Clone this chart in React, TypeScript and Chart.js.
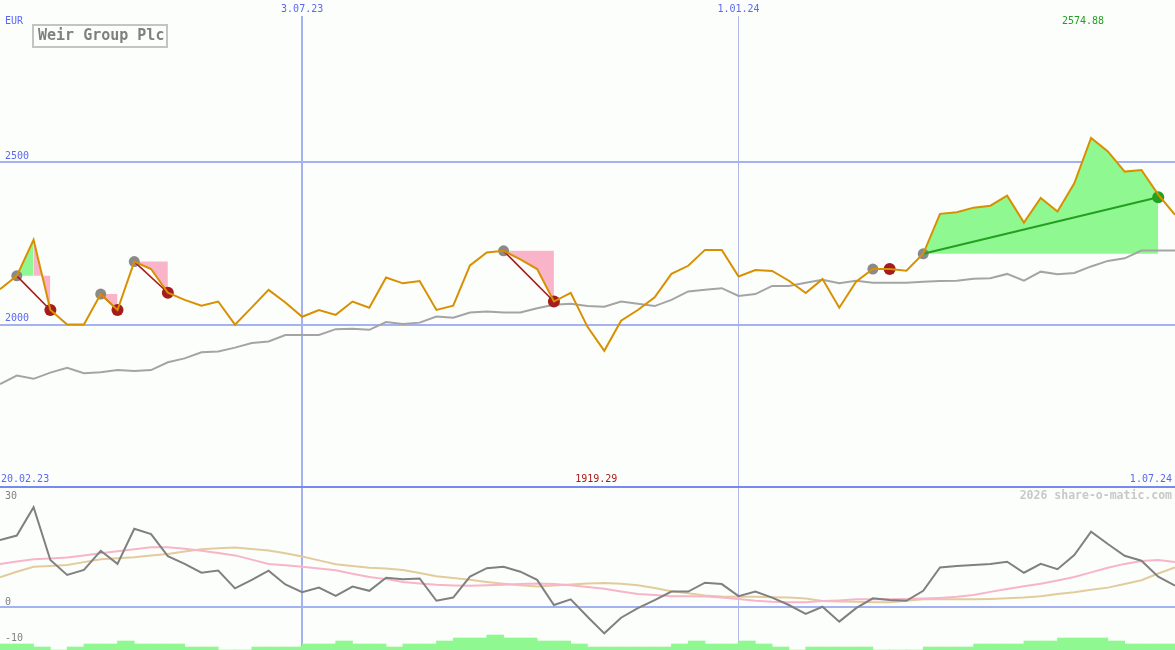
import React, { useEffect, useRef } from "react";
import { Chart, registerables } from "chart.js";

Chart.register(...registerables);

const MONO = '"DejaVu Sans Mono", "Liberation Mono", monospace';
const BG = "#fcfefc";

const title = "Weir Group Plc";
const currency = "EUR";
const watermark = "2026 share-o-matic.com";
const firstDate = "20.02.23";
const lastDate = "1.07.24";
const markerIndex = [18, 44];
const markerDates = ["3.07.23", "1.01.24"];
const priceTicks = [2000, 2500];
const oscTicks = [-10, 0, 30];

const price = [
  2109, 2150, 2261, 2045, 2000, 2000, 2094, 2045, 2194, 2171,
  2098, 2076, 2058, 2071, 2000, 2053, 2107, 2068, 2024, 2045,
  2030, 2071, 2052, 2145, 2127, 2134, 2045, 2058, 2182, 2222,
  2227, 2201, 2171, 2071, 2098, 1993, 1919.29, 2012, 2045, 2084,
  2156, 2181, 2230, 2230, 2148, 2168, 2165, 2135, 2097, 2140,
  2052, 2132, 2171, 2171, 2166, 2218, 2341, 2346, 2360, 2366,
  2397, 2314, 2390, 2348, 2435, 2574.88, 2533, 2471, 2476, 2400,
  2338,
];

const average = [
  1817, 1843, 1833, 1852, 1867, 1850, 1853, 1860, 1857, 1860,
  1884, 1896, 1915, 1917, 1929, 1943, 1948, 1968, 1968, 1968,
  1986, 1987, 1984, 2008, 2002, 2006, 2025, 2021, 2037, 2040,
  2037, 2037, 2050, 2061, 2064, 2057, 2055, 2071, 2064, 2057,
  2076, 2102, 2107, 2112, 2088, 2094, 2119, 2119, 2129, 2138,
  2127, 2135, 2129, 2129, 2129, 2132, 2134, 2135, 2141, 2143,
  2156, 2135, 2163, 2155, 2159, 2179, 2196, 2204, 2228, 2228,
  2228,
];

const oscillator = [
  19.0, 20.3, 28.3, 13.4, 9.2, 10.6, 16.0, 12.3, 22.2, 20.7,
  14.5, 12.3, 9.8, 10.4, 5.4, 7.8, 10.4, 6.5, 4.3, 5.6,
  3.3, 5.9, 4.7, 8.4, 8.0, 8.2, 1.9, 2.8, 8.7, 11.1,
  11.5, 10.1, 7.8, 0.7, 2.3, -2.6, -7.3, -2.9, -0.2, 2.1,
  4.5, 4.5, 7.0, 6.6, 3.2, 4.5, 2.8, 0.7, -1.8, 0.2,
  -4.0, -0.2, 2.6, 2.1, 1.9, 4.7, 11.3, 11.7, 12.0, 12.3,
  12.9, 9.8, 12.3, 10.8, 14.8, 21.4, 17.9, 14.6, 13.2, 8.7,
  6.2,
];

const fastSignal = [
  12.3, 13.0, 13.6, 13.8, 14.1, 14.7, 15.3, 15.9, 16.4, 17.0,
  17.0, 16.6, 16.0, 15.4, 14.7, 13.5, 12.3, 11.9, 11.5, 11.0,
  10.5, 9.5, 8.6, 8.0, 7.2, 6.8, 6.4, 6.2, 6.1, 6.3,
  6.4, 6.6, 6.8, 6.6, 6.3, 5.8, 5.3, 4.5, 3.8, 3.5,
  3.2, 3.2, 3.1, 2.8, 2.4, 1.9, 1.6, 1.5, 1.5, 1.8,
  2.0, 2.3, 2.3, 2.3, 2.4, 2.5, 2.7, 3.0, 3.5, 4.4,
  5.2, 6.0, 6.7, 7.6, 8.6, 9.9, 11.2, 12.3, 13.1, 13.4,
  12.8,
];

const slowSignal = [
  8.5, 10.1, 11.5, 11.7, 12.0, 12.8, 13.6, 13.9, 14.2, 14.7,
  15.1, 15.8, 16.4, 16.7, 16.9, 16.5, 16.1, 15.3, 14.4, 13.3,
  12.2, 11.7, 11.2, 11.0, 10.6, 9.7, 8.8, 8.3, 7.8, 7.2,
  6.7, 6.3, 5.9, 6.2, 6.5, 6.8, 6.9, 6.7, 6.3, 5.5,
  4.6, 4.0, 3.4, 3.1, 3.0, 3.0, 2.9, 2.8, 2.5, 1.8,
  1.7, 1.6, 1.5, 1.5, 1.9, 2.3, 2.3, 2.3, 2.3, 2.4,
  2.6, 2.8, 3.2, 3.8, 4.3, 5.0, 5.6, 6.6, 7.7, 9.6,
  11.3,
];

const volumeLevel = [
  2, 2, 1, 0, 1, 2, 2, 3, 2, 2,
  2, 1, 1, 0, 0, 1, 1, 1, 2, 2,
  3, 2, 2, 1, 2, 2, 3, 4, 4, 5,
  4, 4, 3, 3, 2, 1, 1, 1, 1, 1,
  2, 3, 2, 2, 3, 2, 1, 0, 1, 1,
  1, 1, 0, 0, 0, 1, 1, 1, 2, 2,
  2, 3, 3, 4, 4, 4, 3, 2, 2, 2,
];

const buyAt = [1, 6, 8, 30, 52, 55];
const sellAt = [3, 7, 10, 33, 53];
const openAt = 69;
const openValue = 2392;
const gainSpans = [
  [1, 2, 1],
  [55, 69, 55],
];
const lossSpans = [
  [2, 3, 1],
  [6, 7, 6],
  [8, 10, 8],
  [30, 33, 30],
];

const C = {
  blue: "#5b68f0",
  grid: "#a4b2f2",
  grid2: "#b0b8e4",
  sep: "#7888f0",
  price: "#d99000",
  avg: "#a4a4a4",
  gain: "#90f890",
  loss: "#f9b4c9",
  red: "#a41c1c",
  green: "#22a022",
  dot: "rgba(128,128,128,0.92)",
  osc: "#808080",
  pink: "#f8b4c8",
  tan: "#e2cc9e",
  label: "#808080",
};

const pts = (arr: number[]) => arr.map((y, x) => ({ x, y }));
const span = (a: number, b: number) =>
  price.slice(a, b + 1).map((y, k) => ({ x: a + k, y }));

const zeroPad = (s: any) => {
  s.paddingTop = 0;
  s.paddingBottom = 0;
  s.paddingLeft = 0;
  s.paddingRight = 0;
};

const xGrid = {
  drawTicks: false,
  color: (ctx: any) =>
    ctx.tick && ctx.tick.value === markerIndex[0] ? C.grid : C.grid2,
  lineWidth: (ctx: any) =>
    ctx.tick && ctx.tick.value === markerIndex[0] ? 2 : 1,
};

const topDecor = {
  id: "topDecor",
  beforeDraw(chart: any) {
    const { ctx, width, height } = chart;
    ctx.save();
    ctx.fillStyle = BG;
    ctx.fillRect(0, 0, width, height);
    ctx.restore();
  },
  afterDraw(chart: any) {
    const { ctx, width, height } = chart;
    const xs = chart.scales.x;
    ctx.save();
    ctx.font = `10px ${MONO}`;
    ctx.textBaseline = "middle";
    ctx.fillStyle = C.blue;
    ctx.textAlign = "left";
    ctx.fillText(currency, 5, 21);
    ctx.fillText(firstDate, 1, 479);
    ctx.textAlign = "right";
    ctx.fillText(lastDate, width - 3, 479);

    const maxV = Math.max(...price);
    const minV = Math.min(...price);
    const maxI = price.indexOf(maxV);
    const minI = price.indexOf(minV);
    ctx.textAlign = "center";
    ctx.fillStyle = C.green;
    ctx.fillText(maxV.toFixed(2), xs.getPixelForValue(maxI) - 8, 21);
    ctx.fillStyle = C.red;
    ctx.fillText(minV.toFixed(2), xs.getPixelForValue(minI) - 8, 479);

    // title box
    ctx.fillStyle = BG;
    ctx.fillRect(33, 25, 134, 22);
    ctx.strokeStyle = "#c4c4c4";
    ctx.lineWidth = 2;
    ctx.strokeRect(33, 25, 134, 22);
    ctx.fillStyle = "#808080";
    ctx.font = `bold 15px ${MONO}`;
    ctx.textAlign = "left";
    ctx.fillText(title, 38, 36.5);

    ctx.fillStyle = C.sep;
    ctx.fillRect(0, height - 1, width, 1);
    ctx.restore();
  },
};

const bottomDecor = {
  id: "bottomDecor",
  beforeDraw(chart: any) {
    const { ctx, width, height } = chart;
    ctx.save();
    ctx.fillStyle = BG;
    ctx.fillRect(0, 0, width, height);
    ctx.restore();
  },
  afterDraw(chart: any) {
    const { ctx, width, height } = chart;
    const ys = chart.scales.y;
    ctx.save();
    ctx.fillStyle = C.sep;
    ctx.fillRect(0, 0, width, 1);
    ctx.font = `bold 11.5px ${MONO}`;
    ctx.fillStyle = "#c8c8c8";
    ctx.textAlign = "right";
    ctx.textBaseline = "middle";
    ctx.fillText(watermark, width - 3, 9);

    // axis labels: sit just above their level, kept inside the panel
    ctx.font = `10px ${MONO}`;
    ctx.fillStyle = C.label;
    ctx.textAlign = "left";
    ys.ticks.forEach((t: any) => {
      const y = Math.min(ys.getPixelForValue(t.value) - 5, height - 8);
      ctx.fillText(String(t.value), 5, y);
    });
    ctx.restore();
  },
};

export default function App() {
  const topRef = useRef<HTMLCanvasElement>(null);
  const botRef = useRef<HTMLCanvasElement>(null);

  useEffect(() => {
    const lineBase = {
      type: "line",
      pointRadius: 0,
      pointHoverRadius: 0,
      tension: 0,
      fill: false,
      borderWidth: 2,
    };

    const topDatasets: any[] = [
      { ...lineBase, data: pts(price), borderColor: C.price, order: 0 },
      ...sellAt.map((s, j) => ({
        ...lineBase,
        data: [
          { x: buyAt[j], y: price[buyAt[j]] },
          { x: s, y: price[s] },
        ],
        borderColor: C.red,
        borderWidth: 1.6,
        order: 1,
      })),
      {
        ...lineBase,
        data: [
          { x: buyAt[buyAt.length - 1], y: price[buyAt[buyAt.length - 1]] },
          { x: openAt, y: openValue },
        ],
        borderColor: C.green,
        borderWidth: 2,
        order: 1,
      },
      {
        ...lineBase,
        data: buyAt.map((i) => ({ x: i, y: price[i] })),
        showLine: false,
        pointRadius: 5.5,
        pointBorderWidth: 0,
        pointBackgroundColor: C.dot,
        order: 2,
      },
      {
        ...lineBase,
        data: sellAt.map((i) => ({ x: i, y: price[i] })),
        showLine: false,
        pointRadius: 6,
        pointBorderWidth: 0,
        pointBackgroundColor: C.red,
        order: 2,
      },
      {
        ...lineBase,
        data: [{ x: openAt, y: openValue }],
        showLine: false,
        pointRadius: 6,
        pointBorderWidth: 0,
        pointBackgroundColor: C.green,
        order: 2,
      },
      { ...lineBase, data: pts(average), borderColor: C.avg, order: 3 },
      ...gainSpans.map(([a, b, base]) => ({
        ...lineBase,
        data: span(a, b),
        borderWidth: 0,
        borderColor: "rgba(0,0,0,0)",
        backgroundColor: C.gain,
        fill: { value: price[base] },
        order: 4,
      })),
      ...lossSpans.map(([a, b, base]) => ({
        ...lineBase,
        data: span(a, b),
        borderWidth: 0,
        borderColor: "rgba(0,0,0,0)",
        backgroundColor: C.loss,
        fill: { value: price[base] },
        order: 4,
      })),
    ];

    const topChart = new Chart(topRef.current as HTMLCanvasElement, {
      type: "line",
      data: { datasets: topDatasets },
      plugins: [topDecor],
      options: {
        responsive: false,
        animation: false,
        events: [],
        layout: { padding: 0, autoPadding: false },
        plugins: { legend: { display: false }, tooltip: { enabled: false } },
        scales: {
          x: {
            type: "linear",
            position: "top",
            min: 0,
            max: price.length - 1,
            bounds: "data",
            offset: false,
            grid: xGrid as any,
            border: { display: false },
            afterBuildTicks: (s: any) => {
              s.ticks = markerIndex.map((v) => ({ value: v }));
            },
            afterFit: (s: any) => {
              s.height = 16;
              zeroPad(s);
            },
            ticks: {
              autoSkip: false,
              maxRotation: 0,
              padding: 1,
              color: C.blue,
              font: { family: MONO, size: 10 },
              callback: (_v: any, i: number) => markerDates[i],
            },
          },
          y: {
            type: "linear",
            position: "left",
            min: 1500,
            max: 2950,
            bounds: "data",
            grid: { drawTicks: false, color: C.grid, lineWidth: 2 },
            border: { display: false },
            afterBuildTicks: (s: any) => {
              s.ticks = priceTicks.map((v) => ({ value: v }));
            },
            afterFit: (s: any) => {
              s.width = 0;
              zeroPad(s);
            },
            ticks: {
              mirror: true,
              padding: 5,
              labelOffset: -6,
              color: C.blue,
              font: { family: MONO, size: 10 },
              callback: (v: any) => String(v),
            },
          },
        },
      } as any,
    });

    const botChart = new Chart(botRef.current as HTMLCanvasElement, {
      type: "line",
      data: {
        datasets: [
          { ...lineBase, data: pts(oscillator), borderColor: C.osc, order: 0 },
          { ...lineBase, data: pts(fastSignal), borderColor: C.pink, order: 1 },
          { ...lineBase, data: pts(slowSignal), borderColor: C.tan, order: 2 },
          {
            type: "bar",
            data: volumeLevel.map((v, k) => ({ x: k + 0.5, y: v })),
            yAxisID: "yv",
            backgroundColor: C.gain,
            borderWidth: 0,
            barPercentage: 1,
            categoryPercentage: 1,
            order: 3,
          },
        ] as any,
      },
      plugins: [bottomDecor],
      options: {
        responsive: false,
        animation: false,
        events: [],
        layout: { padding: 0, autoPadding: false },
        plugins: { legend: { display: false }, tooltip: { enabled: false } },
        scales: {
          x: {
            type: "linear",
            position: "bottom",
            min: 0,
            max: price.length - 1,
            bounds: "data",
            offset: false,
            grid: { ...(xGrid as any), offset: false },
            border: { display: false },
            afterBuildTicks: (s: any) => {
              s.ticks = markerIndex.map((v) => ({ value: v }));
            },
            afterFit: (s: any) => {
              s.height = 0;
              zeroPad(s);
            },
            ticks: { display: false },
          },
          y: {
            type: "linear",
            position: "left",
            min: -12,
            max: 34,
            bounds: "data",
            grid: {
              drawTicks: false,
              color: (ctx: any) =>
                ctx.tick && ctx.tick.value === 0 ? C.grid : "rgba(0,0,0,0)",
              lineWidth: 2,
            },
            border: { display: false },
            afterBuildTicks: (s: any) => {
              s.ticks = oscTicks.map((v) => ({ value: v }));
            },
            afterFit: (s: any) => {
              s.width = 0;
              zeroPad(s);
            },
            ticks: { display: false },
          },
          yv: {
            type: "linear",
            display: false,
            min: 0,
            max: 163 / 3,
          },
        },
      } as any,
    });

    return () => {
      topChart.destroy();
      botChart.destroy();
    };
  }, []);

  return (
    <div
      style={{
        position: "fixed",
        left: 0,
        top: 0,
        width: 1175,
        height: 650,
        background: BG,
        overflow: "hidden",
      }}
    >
      <canvas
        ref={topRef}
        width={1175}
        height={487}
        style={{ position: "absolute", left: 0, top: 0, display: "block" }}
      />
      <canvas
        ref={botRef}
        width={1175}
        height={163}
        style={{ position: "absolute", left: 0, top: 487, display: "block" }}
      />
    </div>
  );
}
